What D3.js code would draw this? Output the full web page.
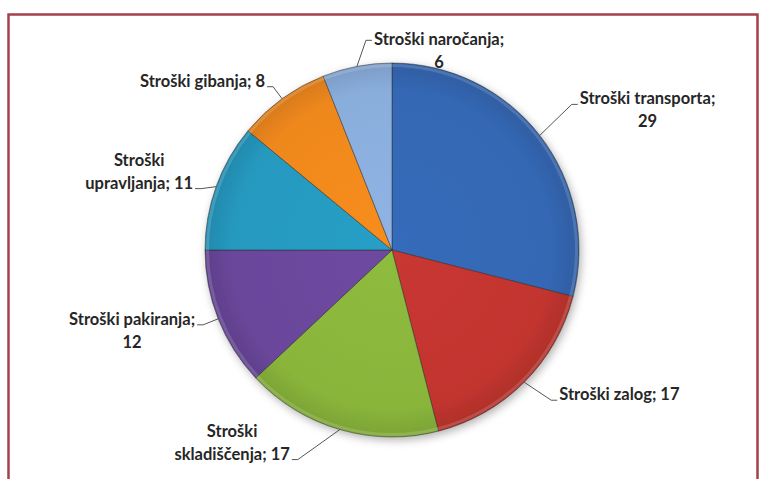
<!DOCTYPE html>
<html>
<head>
<meta charset="utf-8">
<script src="https://cdn.jsdelivr.net/npm/d3@7"></script>
<style>
  body { margin: 0; background: #fff; }
  svg { display: block; }
  .lbl { font-family: Lato, "Open Sans", sans-serif; font-size: 16.5px; font-weight: 700; fill: #262626; }
</style>
</head>
<body>
<svg id="chart" width="764" height="479"></svg>
<script>
const categories = ['Stroški transporta', 'Stroški zalog', 'Stroški skladiščenja', 'Stroški pakiranja',
  'Stroški upravljanja', 'Stroški gibanja', 'Stroški naročanja'];
const values = [29, 17, 17, 12, 11, 8, 6];
const sliceColors = ['#3468b4', '#c2352f', '#89b53b', '#6a479b', '#2699bf', '#ef881d', '#8aaedc'];

// how each label is broken and where its leader bends (offset from the slice's rim point)
const labelLayout = [
  { wrap: 'value', side: 'right', attach: 0, dx: 32, dy: -31, tdy: 0 },
  { wrap: 'none', side: 'right', attach: 0, dx: 27, dy: 18, tdy: 0 },
  { wrap: 'word', side: 'left', attach: 1, dx: -42, dy: 30, tdy: 0 },
  { wrap: 'value', side: 'left', attach: 0, dx: -15, dy: 6, tdy: 0 },
  { wrap: 'word', side: 'left', attach: 1, dx: -15, dy: 2, tdy: 0 },
  { wrap: 'none', side: 'left', attach: 0, dx: -9, dy: -12, tdy: 0 },
  { wrap: 'value', side: 'right', attach: 0, dx: 9, dy: -26, tdy: 5 }
];

const width = 764, height = 479;
const cx = 392, cy = 250, radius = 187;
const lineH = 23;

const svg = d3.select('#chart');
const defs = svg.append('defs');

// soft shadow under the pie
const shadow = defs.append('filter').attr('id', 'shadow')
  .attr('x', '-20%').attr('y', '-20%').attr('width', '140%').attr('height', '140%');
shadow.append('feDropShadow')
  .attr('dx', 2).attr('dy', 3).attr('stdDeviation', 4)
  .attr('flood-color', '#000').attr('flood-opacity', 0.3);

// frame
svg.append('rect')
  .attr('x', 8.5).attr('y', 14.5)
  .attr('width', 749).attr('height', 490)
  .attr('fill', '#fff')
  .attr('stroke', '#a3414d')
  .attr('stroke-width', 2.5);

const pie = d3.pie().sort(null).value(d => d)(values);
const arc = d3.arc().innerRadius(0).outerRadius(radius);

pie.forEach((d, i) => {
  const base = d3.color(sliceColors[i]);
  const g = defs.append('radialGradient')
    .attr('id', 'grad' + i)
    .attr('gradientUnits', 'userSpaceOnUse')
    .attr('cx', 0).attr('cy', 0).attr('r', radius);
  g.append('stop').attr('offset', '0%').attr('stop-color', base.brighter(0.1));
  g.append('stop').attr('offset', '85%').attr('stop-color', base);
  g.append('stop').attr('offset', '100%').attr('stop-color', base.darker(0.3));
});

const pieG = svg.append('g')
  .attr('transform', `translate(${cx},${cy})`)
  .attr('filter', 'url(#shadow)');

pieG.selectAll('path.slice')
  .data(pie)
  .enter().append('path')
  .attr('class', 'slice')
  .attr('d', arc)
  .attr('fill', (d, i) => `url(#grad${i})`)
  .attr('stroke', 'rgba(40,40,40,0.6)')
  .attr('stroke-width', 0.8);

// light bevel along the rim
pieG.selectAll('path.bevel')
  .data(pie)
  .enter().append('path')
  .attr('class', 'bevel')
  .attr('d', d3.arc().innerRadius(radius - 4).outerRadius(radius - 1))
  .attr('fill', 'rgba(255,255,255,0.15)');

// labels
const labelG = svg.append('g');

pie.forEach((d, i) => {
  const lay = labelLayout[i];
  const mid = (d.startAngle + d.endAngle) / 2;
  const px = cx + radius * Math.sin(mid);
  const py = cy - radius * Math.cos(mid);
  const ex = px + lay.dx, ey = py + lay.dy;
  const dir = lay.side === 'right' ? 1 : -1;
  const hx = ex + dir * 6;

  labelG.append('path')
    .attr('d', `M${px},${py}L${ex},${ey}L${hx},${ey}`)
    .attr('fill', 'none')
    .attr('stroke', '#555')
    .attr('stroke-width', 1);

  const name = categories[i];
  let lines;
  if (lay.wrap === 'value') {
    lines = [name + ';', String(values[i])];
  } else if (lay.wrap === 'word') {
    const sp = name.indexOf(' ');
    lines = [name.slice(0, sp), name.slice(sp + 1) + '; ' + values[i]];
  } else {
    lines = [name + '; ' + values[i]];
  }

  const t = labelG.append('text').attr('class', 'lbl').attr('text-anchor', 'middle');
  const spans = lines.map(s => t.append('tspan').text(s));
  const maxW = d3.max(spans, s => s.node().getComputedTextLength());
  const centerX = lay.side === 'right' ? hx + 2 + maxW / 2 : hx - 2 - maxW / 2;
  const baseY = ey + lay.tdy - lay.attach * lineH;
  spans.forEach((s, k) => s.attr('x', centerX).attr('y', baseY + k * lineH));
});
</script>
</body>
</html>
